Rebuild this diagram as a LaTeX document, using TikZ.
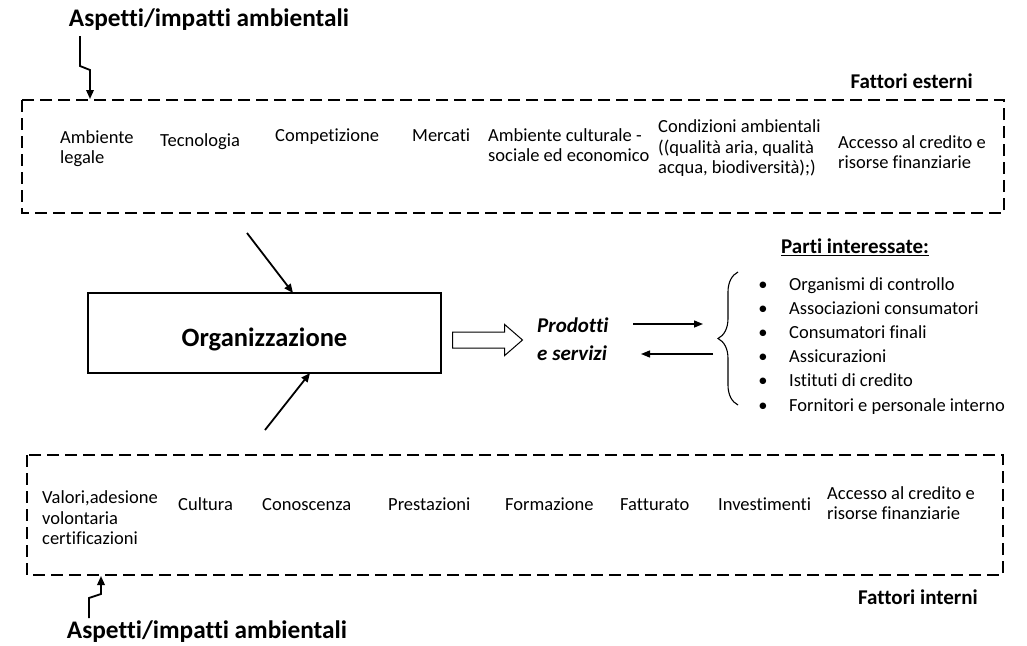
\documentclass[tikz,border=0pt]{standalone}
\usepackage{fontspec}
\setmainfont{Carlito}[Ligatures={NoCommon}]
\usetikzlibrary{arrows.meta,shapes.arrows,decorations.pathreplacing}
\begin{document}
\begin{tikzpicture}[x=1pt,y=-1pt,
  body/.style={font=\fontsize{18.5}{20.5}\selectfont, inner sep=0pt, anchor=west, align=left,
    execute at begin node=\strut, execute at end node=\strut},
  ttl/.style={font=\fontsize{25.3}{28}\selectfont\bfseries, inner sep=0pt},
  fac/.style={font=\fontsize{21}{24}\selectfont\bfseries, inner sep=0pt, anchor=east},
  dbox/.style={draw, line width=1.6pt, dash pattern=on 12pt off 6pt},
  arr/.style={line width=1.8pt, -{Triangle[length=9pt,width=7.5pt]}},
  thinarr/.style={line width=1.4pt, -{Triangle[length=9pt,width=7pt]}},
]
\useasboundingbox (0,0) rectangle (1027,645);

% titles
\node[ttl] (t1) at (209,20) {Aspetti/impatti ambientali};
\node[ttl] (t2) at (207,632) {Aspetti/impatti ambientali};

% dashed boxes
\draw[dbox] (22,100) rectangle (1004,213);
\draw[dbox] (27,455) rectangle (1003,575);
\node[fac] (fe) at (973,81) {Fattori esterni};
\node[fac] (fi) at (978,597) {Fattori interni};

% zigzag arrows
\coordinate (z1) at (80,36);
\coordinate (z1b) at (80,66);
\coordinate (z1c) at (90,70);
\coordinate (z1d) at (90,99);
\draw[arr] (z1) -- (z1b) -- (z1c) -- (z1d);
\coordinate (z2) at (89,618);
\coordinate (z2b) at (89,598);
\coordinate (z2c) at (101,594);
\coordinate (z2d) at (101,576);
\draw[arr] (z2) -- (z2b) -- (z2c) -- (z2d);

% top items
\node[body] (e1) at (60,150) {Ambiente\\legale};
\node[body] (e2) at (160,142) {Tecnologia};
\node[body] (e3) at (275,137) {Competizione};
\node[body] (e4) at (412,137) {Mercati};
\node[body] (e5) at (488,148) {Ambiente culturale -\\sociale ed economico};
\node[body] (e6) at (658,150) {Condizioni ambientali\\((qualità aria, qualità\\acqua, biodiversità);)};
\node[body] (e7) at (838,155) {Accesso al credito e\\risorse finanziarie};

% bottom items
\node[body] (i1) at (42,521) {Valori,adesione\\volontaria\\certificazioni};
\node[body] (i2) at (178,506) {Cultura};
\node[body] (i3) at (262,506) {Conoscenza};
\node[body] (i4) at (388,506) {Prestazioni};
\node[body] (i5) at (505,506) {Formazione};
\node[body] (i6) at (620,506) {Fatturato};
\node[body] (i7) at (718,506) {Investimenti};
\node[body] (i8) at (827,506) {Accesso al credito e\\risorse finanziarie};

% organisation
\node[draw, line width=1.2pt, minimum width=353pt, minimum height=80pt, inner sep=0pt,
      text height=27pt, text depth=0pt,
      font=\fontsize{26.5}{30}\selectfont\bfseries] (org) at (264.5,333) {Organizzazione};
\coordinate (a1) at (247,233);
\coordinate (a1e) at (293,293);
\draw[arr] (a1) -- (a1e);
\coordinate (a2) at (265,430);
\coordinate (a2e) at (310,373);
\draw[arr] (a2) -- (a2e);

% hollow arrow
\node[single arrow, draw, line width=1pt, inner sep=0pt, minimum height=70pt,
      single arrow head extend=7.5pt, single arrow tip angle=82, anchor=west] (ha) at (452,340) {\rule{0pt}{15pt}};

% products
\node[font=\fontsize{21}{28}\selectfont\bfseries\itshape, align=left, anchor=west, inner sep=0pt,
      execute at begin node=\strut, execute at end node=\strut] (prod) at (537,343) {Prodotti\\e servizi};
\coordinate (p1) at (633,324);
\coordinate (p2) at (703,324);
\draw[thinarr] (p1) -- (p2);
\coordinate (p3) at (713,354);
\coordinate (p4) at (641,354);
\draw[thinarr] (p3) -- (p4);

% brace
\coordinate (b1) at (738,405);
\coordinate (b2) at (738,272);
\draw[line width=1.1pt, decorate, decoration={brace, amplitude=20pt, aspect=0.5}] (b1) -- (b2);

% stakeholders
\node[font=\fontsize{21}{24}\selectfont\bfseries, inner sep=0pt, anchor=west] (pi) at (781,247) {\underline{Parti interessate:}};
\foreach \t [count=\k from 0] in {Organismi di controllo, Associazioni consumatori, Consumatori finali, Assicurazioni, Istituti di credito, Fornitori e personale interno} {
  \node[body] (s\k) at (789,{286+24.2*\k}) {\t};
  \node[body, anchor=center] (d\k) at (763,{286+24.2*\k}) {•};
}
\end{tikzpicture}
\end{document}
